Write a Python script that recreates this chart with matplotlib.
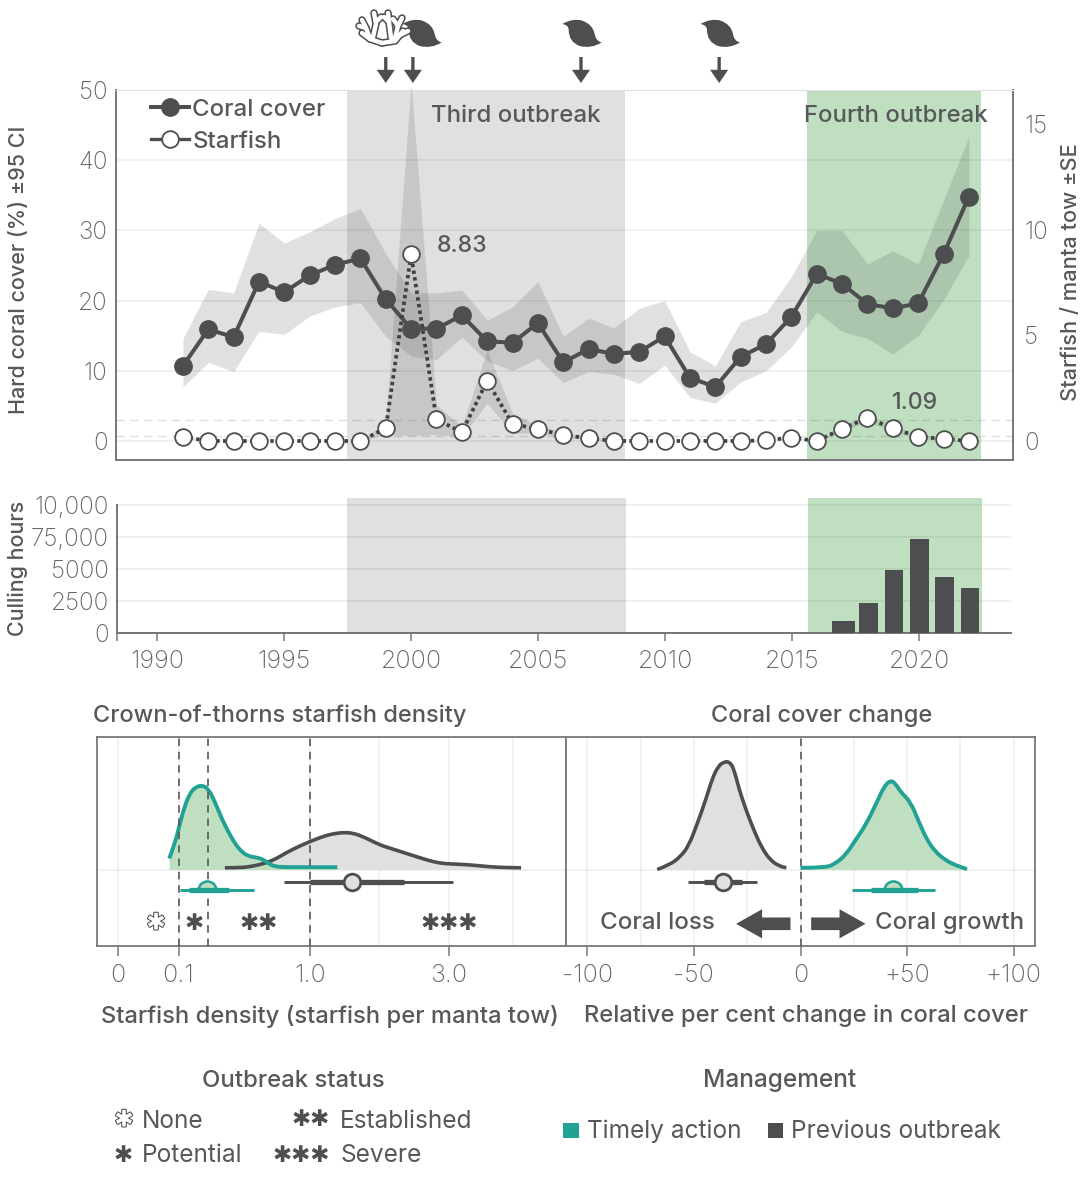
import numpy as np
import matplotlib
matplotlib.use("Agg")
import matplotlib.pyplot as plt
import matplotlib.patheffects as pe
from matplotlib.lines import Line2D
from matplotlib.path import Path
from matplotlib.patches import PathPatch, Rectangle

plt.rcParams['font.family'] = ['Inter', 'DejaVu Sans']

# ---------- data ----------
years = list(range(1991, 2023))
coral = [10.7, 15.9, 14.8, 22.7, 21.2, 23.6, 25.1, 26.0, 20.2, 16.0, 16.0, 17.9, 14.2, 14.0, 16.8, 11.2,
         13.1, 12.4, 12.7, 14.9, 9.0, 7.7, 12.0, 13.8, 17.7, 23.8, 22.4, 19.5, 18.9, 19.6, 26.6, 34.8]
coral_hi = [14.6, 21.6, 21.1, 31.0, 28.2, 29.8, 31.7, 33.1, 26.7, 21.1, 21.1, 21.5, 17.2, 19.1, 22.7, 14.9,
            17.5, 16.1, 18.9, 20.0, 12.7, 10.7, 17.0, 18.3, 23.4, 30.0, 30.0, 25.2, 27.1, 25.2, 34.3, 43.4]
coral_lo = [7.7, 11.2, 9.9, 15.6, 15.2, 17.8, 19.1, 19.7, 14.9, 12.1, 11.6, 14.8, 11.4, 10.0, 11.8, 8.3,
            9.9, 9.5, 8.2, 10.8, 6.2, 5.4, 8.4, 10.0, 13.4, 18.4, 15.6, 14.6, 12.4, 15.0, 20.1, 26.4]
starfish = [0.2, 0, 0, 0, 0, 0, 0, 0, 0.6, 8.83, 1.03, 0.41, 2.85, 0.8, 0.57, 0.28,
            0.13, 0, 0, 0, 0, 0, 0, 0.03, 0.16, 0, 0.57, 1.09, 0.6, 0.2, 0.1, 0]
star_hi = [0.3, 0, 0, 0, 0, 0, 0, 0, 0.9, 16.9, 1.7, 0.7, 4.3, 1.3, 0.75, 0.4,
           0.18, 0, 0, 0, 0, 0, 0, 0.05, 0.22, 0, 0.7, 1.25, 0.75, 0.3, 0.15, 0]
star_lo = [0.1, 0, 0, 0, 0, 0, 0, 0, 0.3, 0.25, 0.3, 0.2, 1.8, 0.35, 0.4, 0.15,
           0.08, 0, 0, 0, 0, 0, 0, 0.01, 0.1, 0, 0.45, 0.92, 0.45, 0.1, 0.05, 0]
cull_years = [2017, 2018, 2019, 2020, 2021, 2022]
cull_hours = [960, 2340, 4910, 7330, 4420, 3560]
cull_ticks = [0, 2500, 5000, 7500, 10000]
cull_labels = ['0', '2500', '5000', '75,000', '10,000']
year_ticks = [1990, 1995, 2000, 2005, 2010, 2015, 2020]
third = (1997.48, 2008.45)
fourth = (2015.6, 2022.48)
event_years = [1999, 2000.07, 2006.7, 2012.15]

# starfish density: x in sqrt(starfish per tow), y = relative density
dens_ticks = [0, 0.316, 1, 1.724]
dens_labels = ['0', '0.1', '1.0', '3.0']
dens_minor = [1.36, 2.057]
dens_thresholds = [0.316, 0.469, 1]
dens_new_x = [.267, .297, .323, .349, .375, .401, .436, .470, .505, .540, .575, .609, .644, .679, .722, .757, .792, .826, .878, 1.142]
dens_new_y = [11, 26, 46, 64.3, 76, 82, 84.3, 81, 67.7, 51, 37.7, 26, 17.7, 13.3, 12, 10, 5, 2.7, 2.3, 2.3]
dens_old_x = [.557, .635, .705, .774, .826, .878, .948, 1.017, 1.087, 1.139, 1.182, 1.226, 1.278, 1.330, 1.382, 1.434, 1.503, 1.573, 1.642, 1.703, 1.781, 1.868, 1.938, 2.007, 2.099]
dens_old_y = [1.7, 1.7, 3.3, 6.7, 11, 17, 23.7, 29.3, 34.3, 36.3, 37, 36.3, 32.7, 27.7, 23.3, 20.3, 16, 11.7, 7.7, 5.7, 5.3, 4, 2.7, 2, 1.7]
dens_old_box = (.866, 1.0, 1.217, 1.490, 1.743)
dens_new_box = (.323, .372, .462, .580, .708)

# coral change: relative per cent
chg_ticks = [-100, -50, 0, 50, 100]
chg_labels = ['-100', '-50', '0', '+50', '+100']
chg_minor = [-75, -25, 25, 75]
chg_old_x = [-67.2, -61.7, -56.3, -52.3, -48.4, -44.5, -41.4, -38.6, -35.9, -33.3, -31.3, -28.9, -25.8, -21.9, -18, -14.1, -10.2, -6.7]
chg_old_y = [0, 4.3, 12.7, 24.3, 46, 69.3, 91, 103.3, 107.7, 107.7, 101, 81, 61, 39.3, 21, 9.3, 3.7, 1.7]
chg_new_x = [0, 11.7, 16.4, 21.1, 25.8, 30.5, 35.2, 39.1, 42.2, 44.5, 46.9, 51.6, 55.5, 59.4, 63.3, 68, 72.7, 78.1]
chg_new_y = [1.7, 1.7, 6, 14.3, 29.3, 44.3, 64.3, 82.7, 89.3, 86, 77.7, 67.7, 47.7, 29.3, 17.7, 9.3, 4.3, .3]
chg_old_box = (-52.8, -45.3, -36.4, -27.3, -20.5)
chg_new_box = (24.2, 33.3, 43.3, 55, 63)

# ---------- style ----------
W, H = 1090, 1194
DARK = '#4d4e50'
TXT = '#57585a'
SPINE = '#77787a'
GRAY = '#dfe0e2'
GREEN = '#c0dfc0'
TEAL = '#22a295'
BAND = '#55575a'
GRID = dict(color='black', alpha=.07, lw=1.1)

fig = plt.figure(figsize=(W / 100, H / 100), dpi=100)


def px_axes(l, t, r, b):
    return fig.add_axes([l / W, 1 - b / H, (r - l) / W, (b - t) / H])


def tick_font(ax, xsize=18, ysize=17.5):
    for lab in ax.get_xticklabels():
        lab.set_fontsize(xsize)
    for lab in ax.get_yticklabels():
        lab.set_fontsize(ysize)
    for lab in ax.get_xticklabels() + ax.get_yticklabels():
        lab.set_color('#636466')
        lab.set_fontweight('light')


# ---------- top panel ----------
ax = px_axes(116, 90, 1013, 460)
ax.set_xlim(1988.36, 2023.74)
ax.set_ylim(-2.71, 50)
ax.axvspan(*third, color=GRAY, lw=0, zorder=0)
ax.axvspan(*fourth, color=GREEN, lw=0, zorder=0)
ax.set_yticks([0, 10, 20, 30, 40, 50])
ax.set_xticks([])
ax.grid(axis='y', zorder=1, **GRID)
ax.set_axisbelow(False)
ax.fill_between(years, coral_lo, coral_hi, color=BAND, alpha=.18, lw=0, zorder=2)
l_coral, = ax.plot(years, coral, '-o', color=DARK, lw=2.9, ms=12.5, zorder=3, label='Coral cover')
for s in ['left', 'bottom', 'right']:
    ax.spines[s].set_color(SPINE)
    ax.spines[s].set_linewidth(1.4)
ax.spines['top'].set_color('#ececed')
ax.tick_params(axis='y', length=0, pad=6)
tick_font(ax)

ax2 = ax.twinx()
ax2.set_ylim(-0.9, 16.61)
ax2.set_yticks([0, 5, 10, 15])
ax2.tick_params(axis='y', length=0, pad=8)
for s in ax2.spines.values():
    s.set_visible(False)
tick_font(ax2)
for v in [0.22, 1.0]:
    ax2.axhline(v, color='black', alpha=.13, lw=1, dashes=(6, 4), zorder=1)
ax2.fill_between(years, star_lo, star_hi, color=BAND, alpha=.18, lw=0, zorder=2, clip_on=False)
ax2.plot(years, starfish, color='#3f4042', lw=2.7, ls=(0, (0.9, 0.9)), zorder=3)
ax2.plot(years, starfish, 'o', mfc='white', mec=DARK, mew=1.3, ms=12, zorder=4)
ax2.text(2001, 8.83 - .1, '8.83', fontsize=16.7, fontweight='medium', color=TXT, va='bottom', ha='left')
ax2.text(2018.95, 1.09 + .2, '1.09', fontsize=16.7, fontweight='medium', color=TXT, va='bottom', ha='left')
ax2.text(2004.12, 15.4, 'Third outbreak', fontsize=17.3, fontweight='medium', color=TXT, ha='center', va='center')
ax2.text(2019.1, 15.4, 'Fourth outbreak', fontsize=17.2, fontweight='medium', color=TXT, ha='center', va='center')

h_star = Line2D([], [], color=DARK, lw=2.4, marker='o', mfc='white', mec=DARK, mew=1.3, ms=12)
leg = ax2.legend([l_coral, h_star], ['Coral cover', 'Starfish'], loc='upper left',
                 bbox_to_anchor=(0.035, 0.986), frameon=False, handlelength=1.6, handletextpad=0.12,
                 labelspacing=0.42, prop={'size': 17.3, 'weight': 'medium'}, labelcolor=TXT, borderpad=0.15, borderaxespad=0)
leg.set_zorder(6)

for yr in event_years:
    ax.annotate('', xy=(yr, 1 + 7 / 370), xytext=(yr, 1 + 33 / 370), xycoords=ax.get_xaxis_transform(),
                textcoords=ax.get_xaxis_transform(), annotation_clip=False,
                arrowprops=dict(arrowstyle='simple,head_length=9.5,head_width=13,tail_width=2.4',
                                mutation_scale=1, color=DARK, lw=0, shrinkA=0, shrinkB=0))

# ---------- culling panel ----------
ac = px_axes(117, 498, 1011, 633.3)
ac.set_xlim(1988.41, 2023.61)
ac.set_ylim(0, 10546)
ac.axvspan(*third, color=GRAY, lw=0, zorder=0)
ac.axvspan(*fourth, color=GREEN, lw=0, zorder=0)
ac.set_yticks(cull_ticks)
ac.set_yticklabels(cull_labels)
ac.set_xticks([ac.get_xlim()[0]] + year_ticks)
ac.set_xticklabels([''] + [str(y) for y in year_ticks])
ac.grid(axis='y', zorder=1, **GRID)
ac.set_axisbelow(False)
widths = [0.9, .73, .73, .73, .73, .73]
ac.bar(cull_years, cull_hours, width=widths, color=DARK, zorder=3)
for s in ['top', 'right']:
    ac.spines[s].set_visible(False)
ac.spines['left'].set_bounds(0, 10000)
for s in ['left', 'bottom']:
    ac.spines[s].set_color(SPINE)
    ac.spines[s].set_linewidth(1.4)
ac.tick_params(axis='y', length=0, pad=6)
ac.tick_params(axis='x', length=6, width=1.1, color=SPINE, pad=6)
tick_font(ac)


# ---------- density panels ----------
def density_axes(l, r, xlim, ticks, labels, minor):
    a = px_axes(l, 737, r, 946)
    a.set_xlim(*xlim)
    a.set_ylim(-76.5, 132.5)
    a.set_xticks(ticks)
    a.set_xticklabels(labels)
    a.set_xticks(minor, minor=True)
    a.set_yticks([])
    a.axhline(0, zorder=1, **GRID)
    a.grid(axis='x', which='both', **GRID)
    a.set_axisbelow(True)
    a.tick_params(axis='x', which='major', length=7, width=1.1, color=SPINE, pad=6)
    a.tick_params(axis='x', which='minor', length=0)
    for s in a.spines.values():
        s.set_color(SPINE)
        s.set_linewidth(1.3)
    tick_font(a)
    return a


def curve(a, x, y, fill, edge, lw):
    """Filled density; the outline is drawn as a quadratic spline through the read points."""
    a.fill_between(x, 0, y, color=fill, lw=0, zorder=2)
    pts = list(zip(x, y))
    verts, codes = [pts[0]], [Path.MOVETO]
    for p, q in zip(pts[1:-1], pts[2:]):
        mid = ((p[0] + q[0]) / 2, (p[1] + q[1]) / 2)
        verts += [p, mid]
        codes += [Path.CURVE3, Path.CURVE3]
    verts.append(pts[-1])
    codes.append(Path.LINETO)
    a.add_patch(PathPatch(Path(verts, codes), fill=False, ec=edge, lw=lw, zorder=3, capstyle='butt', joinstyle='round'))


def box(a, vals, y, color, half):
    a.plot([vals[0], vals[4]], [y, y], color=color, lw=2.1, solid_capstyle='butt', zorder=5)
    a.plot([vals[1], vals[3]], [y, y], color=color, lw=3.8, solid_capstyle='butt', zorder=5)
    if half:
        wedge = Path.wedge(0, 180)
        a.plot([vals[2]], [y], marker=wedge, ms=13, mfc=GREEN, mec=color, mew=1.8, zorder=4)
    else:
        a.plot([vals[2]], [y], 'o', ms=12, mfc=GRAY, mec=color, mew=2, zorder=6)


DASH = dict(color='#555658', lw=1.2, dashes=(4.5, 3.5), zorder=4)
al = density_axes(97, 566, (-0.109, 2.333), dens_ticks, dens_labels, dens_minor)
curve(al, dens_old_x, dens_old_y, GRAY, DARK, 2.6)
curve(al, dens_new_x, dens_new_y, GREEN, TEAL, 2.8)
for v in dens_thresholds:
    al.axvline(v, **DASH)
box(al, dens_old_box, -12.7, DARK, False)
box(al, dens_new_box, -20.3, TEAL, True)

ar = density_axes(566, 1035, (-110, 110), chg_ticks, chg_labels, chg_minor)
curve(ar, chg_old_x, chg_old_y, GRAY, DARK, 2.6)
curve(ar, chg_new_x, chg_new_y, GREEN, TEAL, 2.8)
ar.axvline(0, **DASH)
box(ar, chg_old_box, -12.7, DARK, False)
box(ar, chg_new_box, -20.3, TEAL, True)
for x0, x1 in [(-4.7, -30.2), (5, 30.5)]:
    ar.annotate('', xy=(x1, -54.3), xytext=(x0, -54.3),
                arrowprops=dict(arrowstyle='simple,head_length=18.7,head_width=21,tail_width=9.1',
                                mutation_scale=1, color=DARK, lw=0, shrinkA=0, shrinkB=0))

# ---------- page-level text and icons (pixel coordinates) ----------
ov = fig.add_axes([0, 0, 1, 1], zorder=20)
ov.set_xlim(0, W)
ov.set_ylim(H, 0)
ov.axis('off')


def t(x, y, s, size=17.2, weight='medium', ha='center', color=TXT, rot=0, **kw):
    return ov.text(x, y, s, fontsize=size, fontweight=weight, ha=ha, va='center', color=color, rotation=rot, **kw)


t(19, 270, 'Hard coral cover (%) ±95 CI', 15.5, rot=90)
t(1071, 272, 'Starfish / manta tow ±SE', 15.7, rot=90)
t(18, 568, 'Culling hours', 15.5, rot=90)
t(280, 716, 'Crown-of-thorns starfish density', 17)
t(822, 716, 'Coral cover change', 17)
t(330, 1016, 'Starfish density (starfish per manta tow)', 17.1)
t(805.5, 1016, 'Relative per cent change in coral cover', 17.1)
t(293, 1081, 'Outbreak status')
t(780, 1081, 'Management', 17.6)
t(657, 923, 'Coral loss', 17.4)
t(950, 923, 'Coral growth', 17.3)

SF = ['DejaVu Sans']


def star(x, y, s, ha='center', outline=False):
    txt = t(x, y, s, 16.5, 'bold', ha=ha, family=SF, color=DARK)
    if outline:
        txt.set_color('white')
        txt.set_path_effects([pe.Stroke(linewidth=1.5, foreground=DARK), pe.Normal()])


star(156, 923, '✱', outline=True)
star(194, 923, '✱')
star(259, 923, '✱✱')
star(449, 923, '✱✱✱')

star(124, 1120, '✱', outline=True)
t(142, 1121, 'None', 17.6, 'normal', ha='left')
star(330, 1119, '✱✱', ha='right')
t(340, 1121, 'Established', 17.6, 'normal', ha='left')
star(123, 1155, '✱')
t(142, 1156, 'Potential', 17.6, 'normal', ha='left')
star(330, 1155, '✱✱✱', ha='right')
t(340, 1156, 'Severe', 17.6, 'normal', ha='left')

ov.add_patch(Rectangle((563, 1123), 16, 15, color=TEAL, lw=0))
t(587, 1131, 'Timely action', 17.6, 'normal', ha='left')
ov.add_patch(Rectangle((768, 1123), 15, 15, color=DARK, lw=0))
t(791, 1131, 'Previous outbreak', 17.6, 'normal', ha='left')

# cyclone icons
shape = [(-19.5, -9), (-9, -15), (0, -12.5), (11, -9), (13, 1), (14, 8), (20, 9.5), (9, 16), (-2, 13),
         (-13, 9), (-13, -3), (-13, -8), (-19.5, -9), (-19.5, -9)]
codes = [Path.MOVETO] + [Path.CURVE3] * 12 + [Path.CLOSEPOLY]
for cx in [421.7, 581.7, 720.0]:
    verts = [(cx + a, 33 + b) for a, b in shape]
    ov.add_patch(PathPatch(Path(verts, codes), color=DARK, lw=0))

# coral icon: thick dark stroke, thin white stroke on top
branches = [[(382, 43), (370, 39), (362, 33)], [(382, 43), (395, 41), (403, 31)],
            [(370, 39), (366, 28), (362, 20)], [(366, 28), (359, 26)], [(373, 37), (376, 24), (374, 13)],
            [(376, 22), (381, 17)], [(391, 38), (389, 22), (388, 13)], [(389, 22), (384, 17)],
            [(395, 38), (398, 26), (402, 18)], [(398, 26), (393, 19)], [(400, 35), (408, 31)]]
for lw, col in [(5.4, DARK), (3.2, 'white')]:
    for b in branches:
        xs, ys = zip(*b)
        ov.plot(xs, ys, color=col, lw=lw, solid_capstyle='round', solid_joinstyle='round')

fig.savefig('out.png', dpi=100)
